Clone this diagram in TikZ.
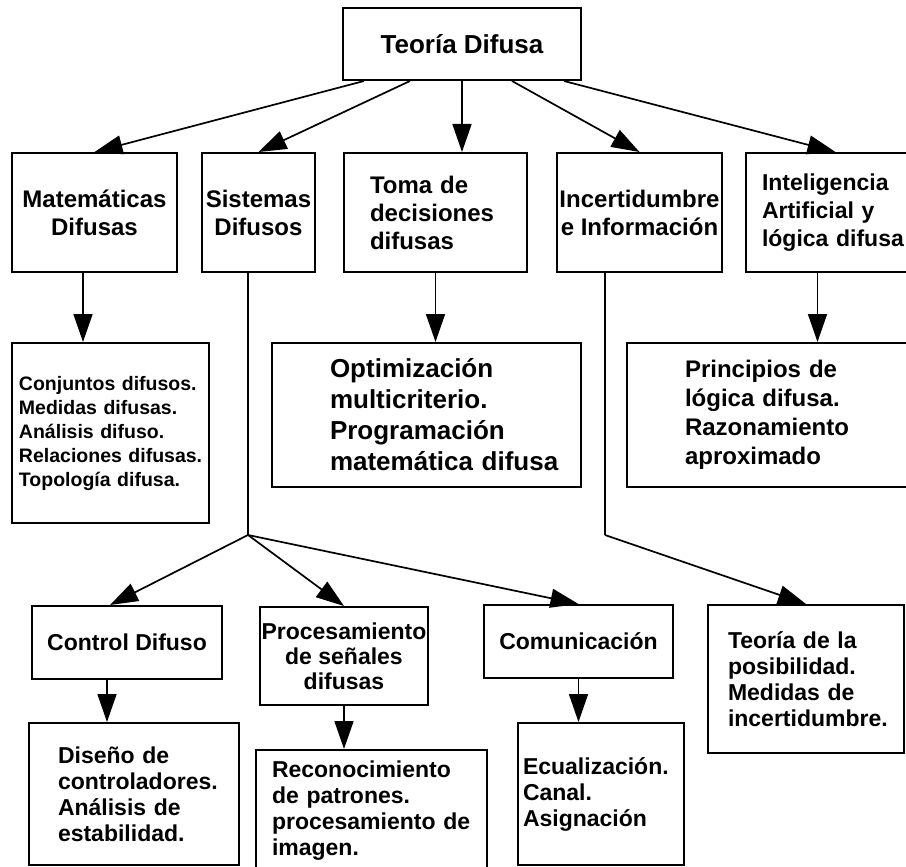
\documentclass[tikz,border=0pt]{standalone}
\usepackage{fontspec}
\setmainfont{Liberation Sans}
\usepackage{tikz}
\usetikzlibrary{arrows.meta}

\tikzset{izq/.style={align=left,execute at begin node={\leftskip=#1}}}

\begin{document}
\begin{tikzpicture}[->,>={Triangle[length=28pt,width=19pt]},line width=1.7pt,x=1pt,y=-1pt]
   \tikzstyle{caja}=[draw,line width=2pt,inner sep=0pt,font=\bfseries\fontsize{24}{28}\selectfont]
   \tikzstyle{chica}=[font=\bfseries\fontsize{23}{26}\selectfont]
   \useasboundingbox (0,0) rectangle (906,867);

   % nivel 1 y 2
   \node[caja,minimum width=238,minimum height=72,font=\bfseries\fontsize{26}{30}\selectfont] (teoria) at (462,44) {Teoría Difusa};
   \node[caja,minimum width=165,minimum height=119,align=center] (mat) at (94.5,212.5) {Matemáticas\\Difusas};
   \node[caja,minimum width=113,minimum height=119,align=center] (sis) at (258.5,212.5) {Sistemas\\Difusos};
   \node[caja,text width=183,minimum height=119,izq=26pt] (toma) at (435.5,212.5) {Toma de\\decisiones\\difusas};
   \node[caja,minimum width=165,minimum height=119,align=center] (inc) at (639.5,212.5) {Incertidumbre\\e Información};
   \node[caja,text width=179,minimum height=119,izq=16pt,font=\bfseries\fontsize{23}{28}\selectfont] (intel) at (835.5,212.5) {Inteligencia\\Artificial y\\lógica difusa};

   % nivel 3
   \node[caja,text width=197,minimum height=180,izq=7pt,font=\bfseries\fontsize{19.5}{24}\selectfont] (conj) at (110.5,433) {Conjuntos difusos.\\Medidas difusas.\\Análisis difuso.\\Relaciones difusas.\\Topología difusa.};
   \node[caja,text width=309,minimum height=144,izq=58pt,font=\bfseries\fontsize{26}{31}\selectfont] (opt) at (426.5,415) {Optimización\\multicriterio.\\Programación\\matemática difusa};
   \node[caja,text width=298,minimum height=144,izq=58pt,font=\bfseries\fontsize{24}{29}\selectfont] (prin) at (776,415) {Principios de\\lógica difusa.\\Razonamiento\\aproximado};

   % nivel 4
   \node[caja,chica,minimum width=190,minimum height=73] (ctrl) at (127,642.5) {Control Difuso};
   \node[caja,minimum width=168,minimum height=98,align=center,font=\bfseries\fontsize{23}{25}\selectfont] (proc) at (344,656) {Procesamiento\\de señales\\difusas};
   \node[caja,chica,minimum width=189,minimum height=73] (com) at (578.5,641.5) {Comunicación};
   \node[caja,chica,text width=196,minimum height=148,izq=20pt] (pos) at (806,679) {Teoría de la\\posibilidad.\\Medidas de\\incertidumbre.};

   % nivel 5
   \node[caja,chica,text width=210,minimum height=142,izq=29pt] (dis) at (134,794) {Diseño de\\controladores.\\Análisis de\\estabilidad.};
   \node[caja,chica,text width=231,minimum height=122,izq=16pt] (rec) at (371.5,811) {Reconocimiento\\de patrones.\\procesamiento de\\imagen.};
   \node[caja,chica,text width=166,minimum height=142,izq=5pt] (ecu) at (601,794) {Ecualización.\\Canal.\\Asignación};

   \coordinate (nudo) at (248,535);
   \coordinate (codo) at (605,535);

   \draw[-] ([xshift=-10.5pt]sis.south) -- (nudo);
   \draw[-] ([xshift=-34.5pt]inc.south) -- (codo);

   \path
     ([xshift=-98pt]teoria.south)  edge  (mat.north)
     ([xshift=-52pt]teoria.south)  edge  (sis.north)
     (teoria.south)  edge  (toma.north -| teoria.south)
     ([xshift=50pt]teoria.south)  edge  (inc.north)
     ([xshift=102pt]teoria.south)  edge  (intel.north)
     ([xshift=-11.5pt]mat.south)  edge  ([xshift=-11.5pt]mat.south |- conj.north)
     (toma.south)  edge  (toma.south |- opt.north)
     ([xshift=-18pt]intel.south)  edge  ([xshift=-18pt]intel.south |- prin.north)
     (nudo)  edge  ([xshift=-17pt]ctrl.north)
     (nudo)  edge  (proc.north)
     (nudo)  edge  (com.north)
     (codo)  edge  (pos.north)
     ([xshift=-20pt]ctrl.south)  edge  ([xshift=-20pt]ctrl.south |- dis.north)
     (proc.south)  edge  (proc.south |- rec.north)
     (com.south)  edge  (com.south |- ecu.north);
\end{tikzpicture}
\end{document}
